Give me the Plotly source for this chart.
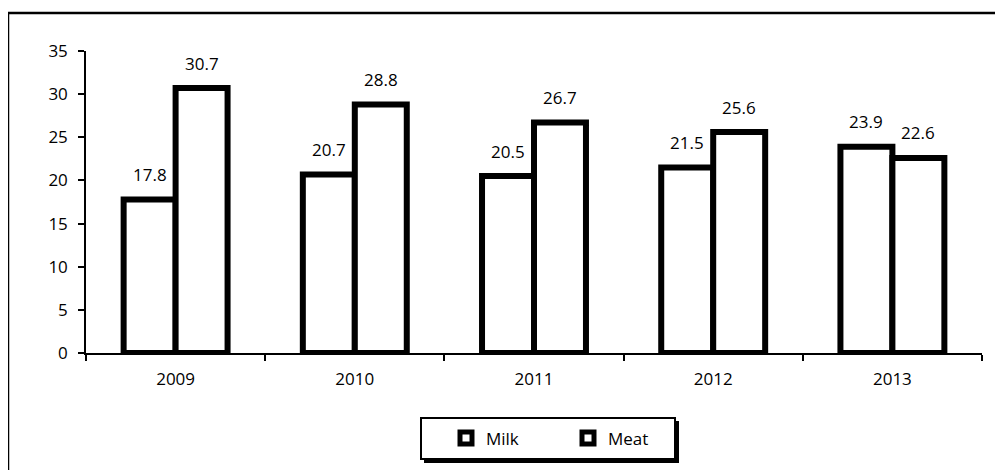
import plotly.graph_objects as go

years = ["2009", "2010", "2011", "2012", "2013"]
milk = [17.8, 20.7, 20.5, 21.5, 23.9]
meat = [30.7, 28.8, 26.7, 25.6, 22.6]
y_ticks = [0, 5, 10, 15, 20, 25, 30, 35]

# page body has an 8px margin, so the figure is drawn at (8, 8)
OFF = 8
W, H = 1003 - OFF, 470 - OFF
ml, mr, mt, mb = 86 - OFF, 21, 51 - OFF, H - (353 - OFF)
pw, ph = W - ml - mr, H - mt - mb

def px(x):  # image x -> paper fraction
    return (x - OFF - ml) / pw

def py(y):  # image y -> paper fraction
    return (H - mb - (y - OFF)) / ph

FAM = "Open Sans, Noto Sans, sans-serif"
font = dict(family=FAM, size=17, color="black")

fig = go.Figure()
series = [("Milk", milk), ("Meat", meat)]
for name, vals in series:
    fig.add_trace(go.Bar(
        name=name, x=years, y=vals,
        marker=dict(color="white", line=dict(color="black", width=6)),
        cliponaxis=False,
    ))

bar_w = 52
annotations = []
for i, (name, vals) in enumerate(series):
    shift = (i - 0.5) * bar_w
    for j, v in enumerate(vals):
        # x given as the category's serial index on the category axis
        annotations.append(dict(
            x=j, y=v, xref="x", yref="y", text=f"{v:.1f}", showarrow=False,
            xshift=shift, yshift=25, yanchor="middle", xanchor="center",
            font=dict(family=FAM, size=17, color="black"),
        ))

shapes = [
    # outer chart border
    dict(type="rect", xref="paper", yref="paper",
         x0=px(8), x1=px(1030), y0=py(500), y1=py(13),
         line=dict(color="black", width=2.5), fillcolor="rgba(0,0,0,0)", layer="below"),
    # legend shadow
    dict(type="rect", xref="paper", yref="paper",
         x0=px(424), x1=px(679), y0=py(463), y1=py(421),
         line=dict(width=0), fillcolor="black", layer="above"),
    # legend box
    dict(type="rect", xref="paper", yref="paper",
         x0=px(421), x1=px(675), y0=py(459), y1=py(418),
         line=dict(color="black", width=2), fillcolor="white", layer="above"),
]

fig.update_layout(
    width=W, height=H,
    margin=dict(l=ml, r=mr, t=mt, b=mb, pad=0),
    paper_bgcolor="white", plot_bgcolor="white",
    font=font,
    barmode="group", bargap=0.42, bargroupgap=0,
    showlegend=True,
    legend=dict(orientation="h", x=px(446), y=py(438.5), xanchor="left", yanchor="middle",
                bgcolor="rgba(0,0,0,0)", borderwidth=0,
                font=dict(size=17, family=FAM, color="black"),
                itemwidth=30, entrywidth=77),
    shapes=shapes,
    annotations=annotations,
    xaxis=dict(type="category", range=[-0.5, len(years) - 0.5], showline=True,
               linecolor="black", linewidth=1.5,
               ticks="outside", tickson="boundaries", ticklen=6, tickwidth=1.5,
               tickcolor="black", showgrid=False, tickfont=dict(size=17), tickangle=0,
               ticklabelstandoff=10),
    yaxis=dict(range=[0, 35], tickvals=y_ticks, showline=True, linecolor="black",
               linewidth=1.5, ticks="outside", ticklen=6, tickwidth=1.5, tickcolor="black",
               showgrid=False, zeroline=False, tickfont=dict(size=17),
               ticklabelstandoff=7),
)

fig.write_html("out.html")
